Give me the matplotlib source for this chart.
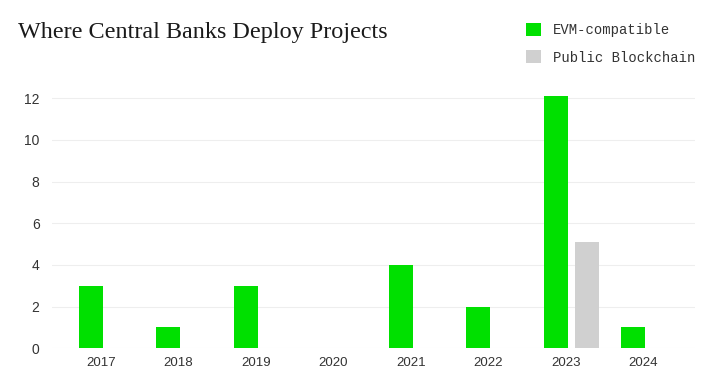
import numpy as np
import matplotlib
matplotlib.use("Agg")
import matplotlib.pyplot as plt

years = ["2017", "2018", "2019", "2020", "2021", "2022", "2023", "2024"]
evm = [3, 1, 3, 0, 4, 2, 12.1, 1]
public = [0, 0, 0, 0, 0, 0, 5.1, 0]
yticks = [0, 2, 4, 6, 8, 10, 12]

green = "#00e000"
grey = "#d0d0d0"

fig = plt.figure(figsize=(7.05, 3.84), dpi=100)
ax = fig.add_axes([0.0738, 0.093, 0.912, 0.662])

x = np.arange(len(years))
w = 24 / 77.5
off = 15.5 / 77.5
b1 = ax.bar(x - off, evm, width=w, color=green, zorder=3, label="EVM-compatible")
b2 = ax.bar(x + off, public, width=w, color=grey, zorder=3, label="Public Blockchain")

ax.set_xlim(-0.7, 7.6)
ax.set_ylim(0, 12.2)
ax.set_xticks(x - 0.07)
ax.set_xticklabels(years, family="Liberation Sans", fontsize=9.5, color="#333333")
ax.set_yticks(yticks)
ax.set_yticklabels([str(v) for v in yticks], family="Liberation Sans", fontsize=10, color="#333333")
ax.tick_params(axis="both", length=0)
ax.tick_params(axis="y", pad=9)
ax.tick_params(axis="x", pad=6)
ax.grid(axis="y", color="#eeeeee", linewidth=0.8, zorder=0)
for s in ax.spines.values():
    s.set_visible(False)

fig.text(18 / 705, 1 - 38 / 384, "Where Central Banks Deploy Projects",
         family="Liberation Serif", fontsize=17.4, color="#1a1a1a", va="baseline")

fig.legend(handles=[b1, b2], loc="upper left", bbox_to_anchor=(526 / 705, 1 - 23 / 384),
           frameon=False, prop={"family": "Liberation Mono", "size": 10},
           handlelength=1.05, handleheight=1.05, handletextpad=0.9, labelspacing=0.95,
           borderaxespad=0, borderpad=0, labelcolor="#333333")

fig.savefig("out.png", dpi=100)
